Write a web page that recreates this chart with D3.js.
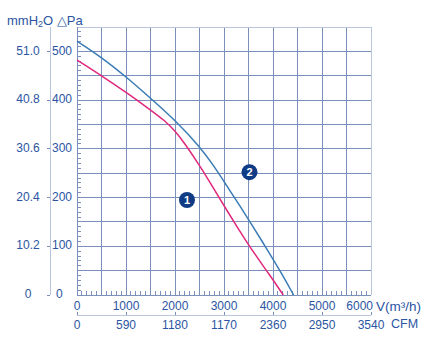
<!DOCTYPE html>
<html>
<head>
<meta charset="utf-8">
<script src="https://cdn.jsdelivr.net/npm/d3@7"></script>
<style>
  html, body { margin: 0; padding: 0; background: #ffffff; }
  svg { display: block; }
  text { font-family: "Liberation Sans", Arial, sans-serif; fill: #2b55a3; }
</style>
</head>
<body>
<svg id="chart" width="433" height="350"></svg>
<script>
// Fan performance curves: static pressure vs. air flow
const flowTicks = [0, 1000, 2000, 3000, 4000, 5000, 6000];
const cfmLabels = ["0", "590", "1180", "1170", "2360", "2950", "3540"];
const paTicks = [0, 100, 200, 300, 400, 500];
const mmH2OLabels = ["0", "10.2", "20.4", "30.6", "40.8", "51.0"];

// Curve 1 (magenta)
const curve1Flow = [0, 500, 1000, 1500, 1800, 2000, 2200, 2500, 2780, 3050, 3290, 3530, 3940, 4210];
const curve1Pa   = [482, 450, 416, 380, 357, 337, 311, 266, 220, 175, 136, 98, 40, 0];
// Curve 2 (blue)
const curve2Flow = [0, 500, 1000, 1500, 2000, 2500, 2800, 3050, 3330, 3530, 3940, 4200, 4420];
const curve2Pa   = [521, 488, 448, 404, 359, 305, 264, 225, 182, 150, 84, 40, 0];

const curveNames = ["1", "2"];
const curveColors = ["#e0287c", "#3b7cb6"];
// badge anchor points, in flow / pressure units
const badgeFlow = [2245, 3520];
const badgePa = [195, 252];

const svg = d3.select("#chart");
const x = d3.scaleLinear().domain([0, 6000]).range([77, 371]);
const y = d3.scaleLinear().domain([0, 550]).range([295, 27]);

const gridColor = "#7a8fba";
const frameColor = "#b9c5dd";

// grid
const g = svg.append("g");
g.selectAll("line.vg").data(d3.range(500, 6000, 500)).join("line")
  .attr("x1", d => x(d)).attr("x2", d => x(d))
  .attr("y1", y(550)).attr("y2", y(0))
  .attr("stroke", gridColor).attr("stroke-width", 1).attr("shape-rendering", "crispEdges");
g.selectAll("line.hg").data(d3.range(50, 550, 50)).join("line")
  .attr("x1", x(0)).attr("x2", x(6000))
  .attr("y1", d => y(d)).attr("y2", d => y(d))
  .attr("stroke", gridColor).attr("stroke-width", 1).attr("shape-rendering", "crispEdges");

// frame top & right
g.append("line").attr("x1", x(0)).attr("x2", x(6000)).attr("y1", y(550)).attr("y2", y(550))
  .attr("stroke", frameColor).attr("shape-rendering", "crispEdges");
g.append("line").attr("x1", x(6000)).attr("x2", x(6000)).attr("y1", y(550)).attr("y2", y(0))
  .attr("stroke", frameColor).attr("shape-rendering", "crispEdges");

// minor ticks on the left axis (every 10 Pa) and the bottom axis (every 100 m3/h)
g.selectAll("line.ly").data(d3.range(0, 550, 10)).join("line")
  .attr("x1", x(0)).attr("x2", x(0) + 4)
  .attr("y1", d => y(d)).attr("y2", d => y(d))
  .attr("stroke", gridColor).attr("shape-rendering", "crispEdges");
g.selectAll("line.lx").data(d3.range(0, 6000, 100)).join("line")
  .attr("x1", d => x(d)).attr("x2", d => x(d))
  .attr("y1", y(0)).attr("y2", y(0) - 4)
  .attr("stroke", gridColor).attr("shape-rendering", "crispEdges");

// main axes
g.append("line").attr("x1", x(0)).attr("x2", x(0)).attr("y1", y(550)).attr("y2", y(0))
  .attr("stroke", gridColor).attr("shape-rendering", "crispEdges");
g.append("line").attr("x1", x(0)).attr("x2", x(6000)).attr("y1", y(0)).attr("y2", y(0))
  .attr("stroke", gridColor).attr("shape-rendering", "crispEdges");

// secondary pressure axis line (left) with small ticks
const leftAxisX = 50;
g.append("line").attr("x1", leftAxisX).attr("x2", leftAxisX).attr("y1", y(550)).attr("y2", y(0))
  .attr("stroke", frameColor).attr("shape-rendering", "crispEdges");
g.selectAll("line.pt").data(paTicks).join("line")
  .attr("x1", leftAxisX - 3).attr("x2", leftAxisX)
  .attr("y1", d => y(d)).attr("y2", d => y(d))
  .attr("stroke", gridColor).attr("shape-rendering", "crispEdges");

// Pa labels
svg.selectAll("text.pa").data(paTicks).join("text")
  .attr("x", d => d === 0 ? 56 : 52).attr("y", d => y(d) - 1)
  .attr("dy", "0.35em").attr("font-size", 12)
  .text(d => d);

// mmH2O labels
svg.selectAll("text.mm").data(mmH2OLabels).join("text")
  .attr("x", 28).attr("y", (d, i) => y(paTicks[i]) - 1)
  .attr("dy", "0.35em").attr("text-anchor", "middle").attr("font-size", 12)
  .text(d => d);

// unit header
const head = svg.append("text").attr("x", 7).attr("y", 25).attr("font-size", 13);
head.append("tspan").text("mmH");
head.append("tspan").attr("font-size", 9).attr("dy", 2).text("2");
head.append("tspan").attr("dy", -2).text("O \u25B3Pa");

// flow labels (m3/h); the last one sits left of the unit text
svg.selectAll("text.fl").data(flowTicks).join("text")
  .attr("x", (d, i) => i === flowTicks.length - 1 ? x(d) + 2 : x(d)).attr("y", 306)
  .attr("dy", "0.35em")
  .attr("text-anchor", (d, i) => i === flowTicks.length - 1 ? "end" : "middle")
  .attr("font-size", 12)
  .text(d => d);
svg.append("text").attr("x", x(6000) + 5).attr("y", 306).attr("dy", "0.35em")
  .attr("font-size", 13.5).text("V(m\u00B3/h)");

// CFM axis
const cfmY = 315;
svg.append("line").attr("x1", x(0)).attr("x2", x(6000)).attr("y1", cfmY).attr("y2", cfmY)
  .attr("stroke", frameColor).attr("shape-rendering", "crispEdges");
svg.selectAll("line.cf").data(flowTicks).join("line")
  .attr("x1", d => x(d)).attr("x2", d => x(d))
  .attr("y1", cfmY).attr("y2", cfmY - 3)
  .attr("stroke", gridColor).attr("shape-rendering", "crispEdges");
svg.selectAll("text.cfm").data(cfmLabels).join("text")
  .attr("x", (d, i) => x(flowTicks[i])).attr("y", 325)
  .attr("dy", "0.35em").attr("text-anchor", "middle").attr("font-size", 12)
  .text(d => d);
svg.append("text").attr("x", x(6000) + 20).attr("y", 324).attr("dy", "0.35em")
  .attr("font-size", 12.5).text("CFM");

// curves
const line = d3.line().x(d => x(d[0])).y(d => y(d[1])).curve(d3.curveBasis);
const curves = [d3.zip(curve1Flow, curve1Pa), d3.zip(curve2Flow, curve2Pa)];
svg.selectAll("path.curve").data(curves).join("path")
  .attr("d", line).attr("fill", "none")
  .attr("stroke", (d, i) => curveColors[i]).attr("stroke-width", 1.5);

// numbered badges
const badges = svg.selectAll("g.badge").data(curveNames).join("g")
  .attr("transform", (d, i) => `translate(${x(badgeFlow[i])},${y(badgePa[i])})`);
badges.append("circle").attr("r", 8).attr("fill", "#0f3c85");
badges.append("text").attr("text-anchor", "middle").attr("dy", "0.36em")
  .attr("font-size", 11).attr("font-weight", "bold").style("fill", "#ffffff")
  .text(d => d);
</script>
</body>
</html>
